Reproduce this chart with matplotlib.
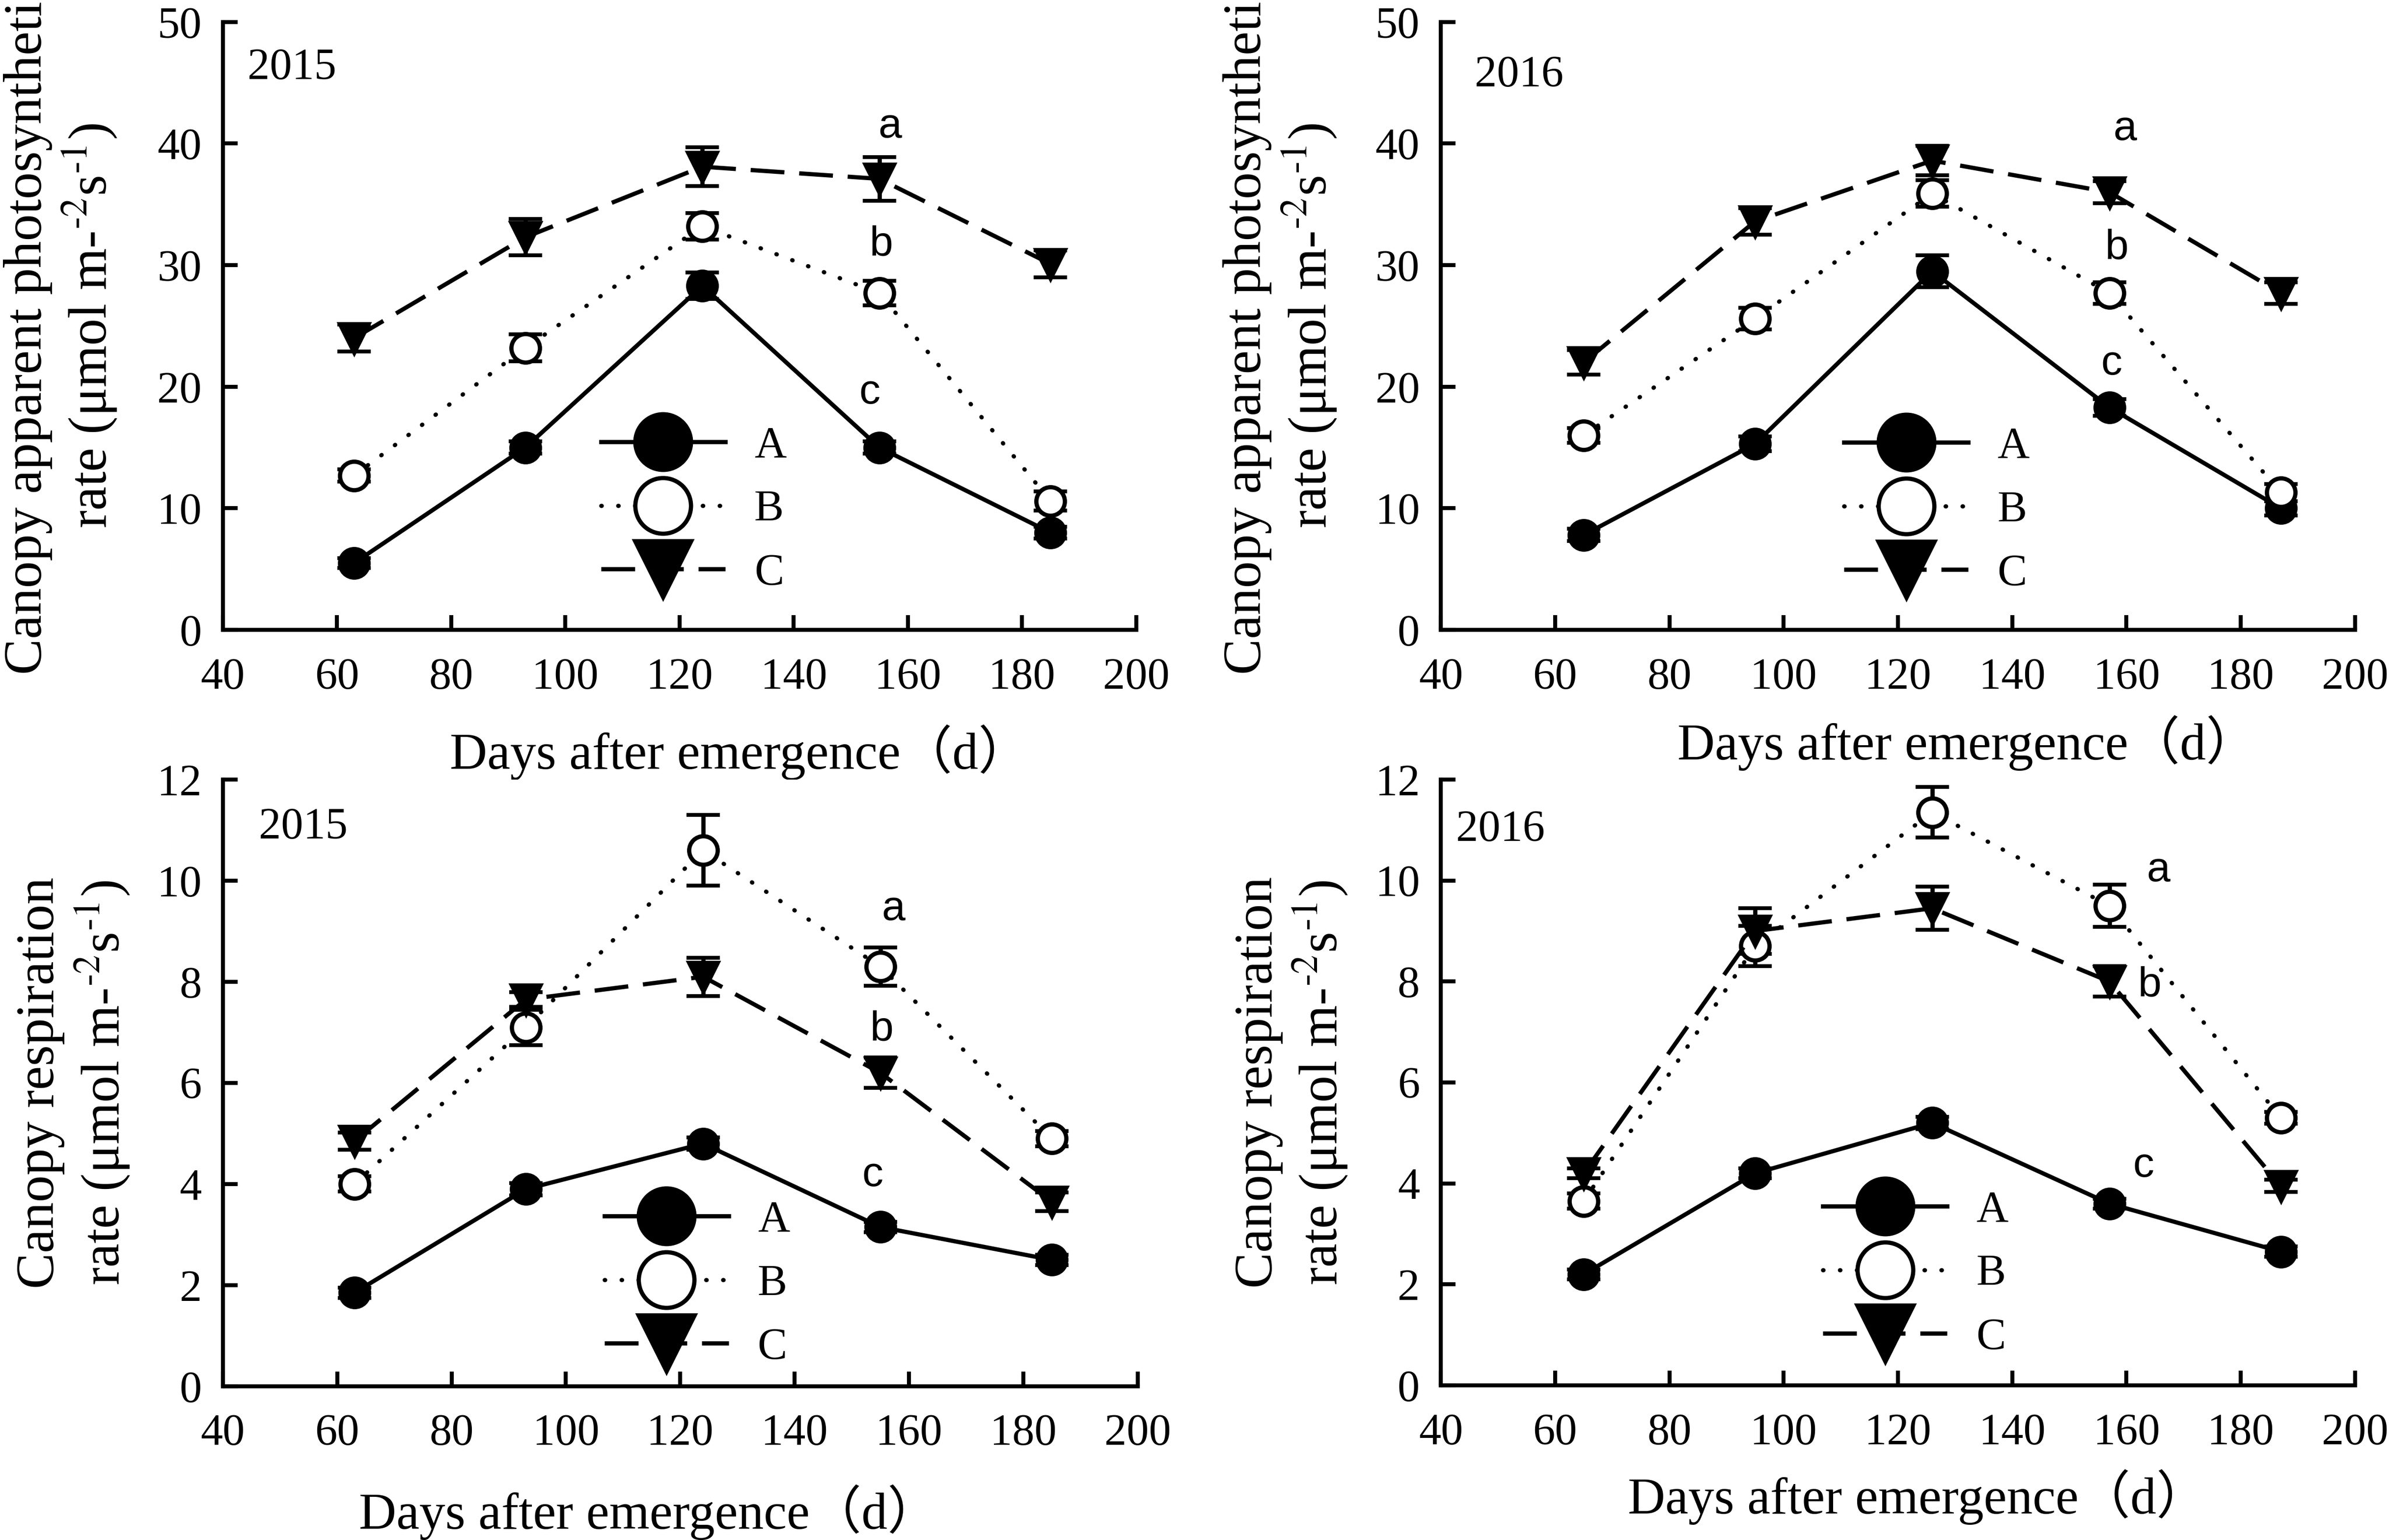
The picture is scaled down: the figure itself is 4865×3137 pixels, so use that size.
import numpy as np
import matplotlib
matplotlib.use("Agg")
import matplotlib.pyplot as plt

plt.rcParams['font.family'] = ['Liberation Serif', 'Noto Sans CJK SC']
plt.rcParams['mathtext.fontset'] = 'stix'

# ---- data ----
days_2015 = [63, 93, 124, 155, 185]
days_2016 = [65, 95, 126, 157, 187]
treatments = ['A', 'B', 'C']

# canopy apparent photosynthetic rate
pn_2015 = {'A': [5.5, 15.0, 28.3, 15.0, 8.0],
           'B': [12.7, 23.2, 33.2, 27.7, 10.6],
           'C': [24.0, 32.3, 38.1, 37.1, 30.1]}
pn_2015_err = {'A': [0.4, 0.5, 1.1, 0.5, 0.5],
               'B': [0.5, 1.1, 1.1, 1.0, 0.8],
               'C': [1.1, 1.5, 1.6, 1.8, 1.1]}
pn_2016 = {'A': [7.8, 15.3, 29.5, 18.3, 10.0],
           'B': [16.0, 25.6, 35.9, 27.7, 11.3],
           'C': [22.0, 33.6, 38.6, 36.0, 27.7]}
pn_2016_err = {'A': [0.5, 0.6, 1.3, 0.7, 0.6],
               'B': [0.6, 0.9, 1.1, 0.9, 0.7],
               'C': [1.0, 1.1, 1.2, 0.9, 0.9]}

# canopy respiration rate
rd_2015 = {'A': [1.85, 3.9, 4.8, 3.15, 2.5],
           'B': [4.0, 7.1, 10.6, 8.3, 4.9],
           'C': [4.85, 7.65, 8.1, 6.2, 3.65]}
rd_2015_err = {'A': [0.1, 0.12, 0.12, 0.1, 0.1],
               'B': [0.15, 0.35, 0.7, 0.38, 0.15],
               'C': [0.17, 0.15, 0.38, 0.3, 0.18]}
rd_2016 = {'A': [2.2, 4.2, 5.2, 3.6, 2.65],
           'B': [3.65, 8.7, 11.35, 9.5, 5.3],
           'C': [4.2, 9.0, 9.45, 8.0, 3.95]}
rd_2016_err = {'A': [0.1, 0.1, 0.12, 0.1, 0.1],
               'B': [0.15, 0.4, 0.5, 0.42, 0.12],
               'C': [0.1, 0.45, 0.43, 0.3, 0.12]}

sig_letters = ['a', 'b', 'c']
x_ticks = [40, 60, 80, 100, 120, 140, 160, 180, 200]

unit = "rate (\u03bcmol m-$^{\\text{-2}}$s$^{\\text{-1}}$)"
ylabel_pn = "Canopy apparent photosynthetic\n" + unit
ylabel_rd = "Canopy respiration\n" + unit
xlabel = "Days after emergence\uff08d\uff09"

# ---- styles ----
LW = 2.0
styles = {
    'A': dict(marker='o', mfc='black', linestyle='-'),
    'B': dict(marker='o', mfc='white', dashes=(0.1, 3.9), dash_capstyle='round'),
    'C': dict(marker='v', mfc='black', dashes=(8, 3.5)),
}

panels = [
    dict(rect=[0.0933, 0.591, 0.3823, 0.3947], x=days_2015, y=pn_2015, e=pn_2015_err,
         ymax=50, ystep=10, year='2015', year_xy=(44.3, 46.2),
         let_xy=[(156.9, 41.4), (155.3, 31.7), (153.3, 19.5)],
         ylab=ylabel_pn, ylab_x=-0.114, xlab_xy=(0.566, -0.156), leg=(0.414, 0.197)),
    dict(rect=[0.6031, 0.591, 0.3827, 0.3947], x=days_2016, y=pn_2016, e=pn_2016_err,
         ymax=50, ystep=10, year='2016', year_xy=(45.9, 45.6),
         let_xy=[(159.7, 41.2), (158.3, 31.4), (157.4, 21.9)],
         ylab=ylabel_pn, ylab_x=-0.112, xlab_xy=(0.576, -0.140), leg=(0.441, 0.196)),
    dict(rect=[0.0933, 0.0998, 0.3829, 0.394], x=days_2015, y=rd_2015, e=rd_2015_err,
         ymax=12, ystep=2, year='2015', year_xy=(46.3, 11.05),
         let_xy=[(157.3, 9.44), (155.2, 7.05), (153.6, 4.17)],
         ylab=ylabel_rd, ylab_x=-0.100, xlab_xy=(0.466, -0.162), leg=(0.417, 0.168)),
    dict(rect=[0.6031, 0.1004, 0.3827, 0.3934], x=days_2016, y=rd_2016, e=rd_2016_err,
         ymax=12, ystep=2, year='2016', year_xy=(42.7, 11.0),
         let_xy=[(165.6, 10.2), (164.0, 7.92), (163.0, 4.35)],
         ylab=ylabel_rd, ylab_x=-0.100, xlab_xy=(0.522, -0.138), leg=(0.418, 0.183)),
]

fig = plt.figure(figsize=(4865 / 310, 3137 / 310), dpi=310)

for p in panels:
    ax = fig.add_axes(p['rect'])
    handles = []
    for t in treatments:
        ax.errorbar(p['x'], p['y'][t], yerr=p['e'][t], fmt='none', ecolor='black',
                    elinewidth=2.0, capsize=8, capthick=1.8, zorder=2)
        ln, = ax.plot(p['x'], p['y'][t], color='black', lw=LW, ms=13.5,
                      mec='black', mew=2.0, label=t, zorder=3, **styles[t])
        handles.append(ln)

    for s, (lx, ly) in zip(sig_letters, p['let_xy']):
        ax.text(lx, ly, s, family=['Liberation Sans Narrow', 'Liberation Sans'],
                fontsize=20, ha='center', va='center')
    ax.text(p['year_xy'][0], p['year_xy'][1], p['year'], fontsize=21,
            ha='left', va='center')

    ax.set_xlim(40, 200)
    ax.set_ylim(0, p['ymax'])
    ax.set_xticks(x_ticks)
    ax.set_yticks(np.arange(0, p['ymax'] + 0.1, p['ystep']))
    ax.spines['top'].set_visible(False)
    ax.spines['right'].set_visible(False)
    for sp in ('left', 'bottom'):
        ax.spines[sp].set_linewidth(1.9)
    ax.tick_params(axis='both', direction='in', length=7, width=1.9, labelsize=21)
    ax.tick_params(axis='x', pad=13)
    ax.tick_params(axis='y', pad=10)

    ax.set_ylabel(p['ylab'], fontsize=25.5, linespacing=1.17)
    ax.yaxis.set_label_coords(p['ylab_x'], 0.5)
    ax.set_xlabel(xlabel, fontsize=24.5)
    ax.xaxis.set_label_coords(*p['xlab_xy'])

    ax.legend(handles=handles, loc='center left', bbox_to_anchor=p['leg'],
              frameon=False, fontsize=21, markerscale=1.95, handlelength=2.8,
              handletextpad=0.65, labelspacing=0.52, borderpad=0, borderaxespad=0)

fig.savefig('out.png', dpi=310)
